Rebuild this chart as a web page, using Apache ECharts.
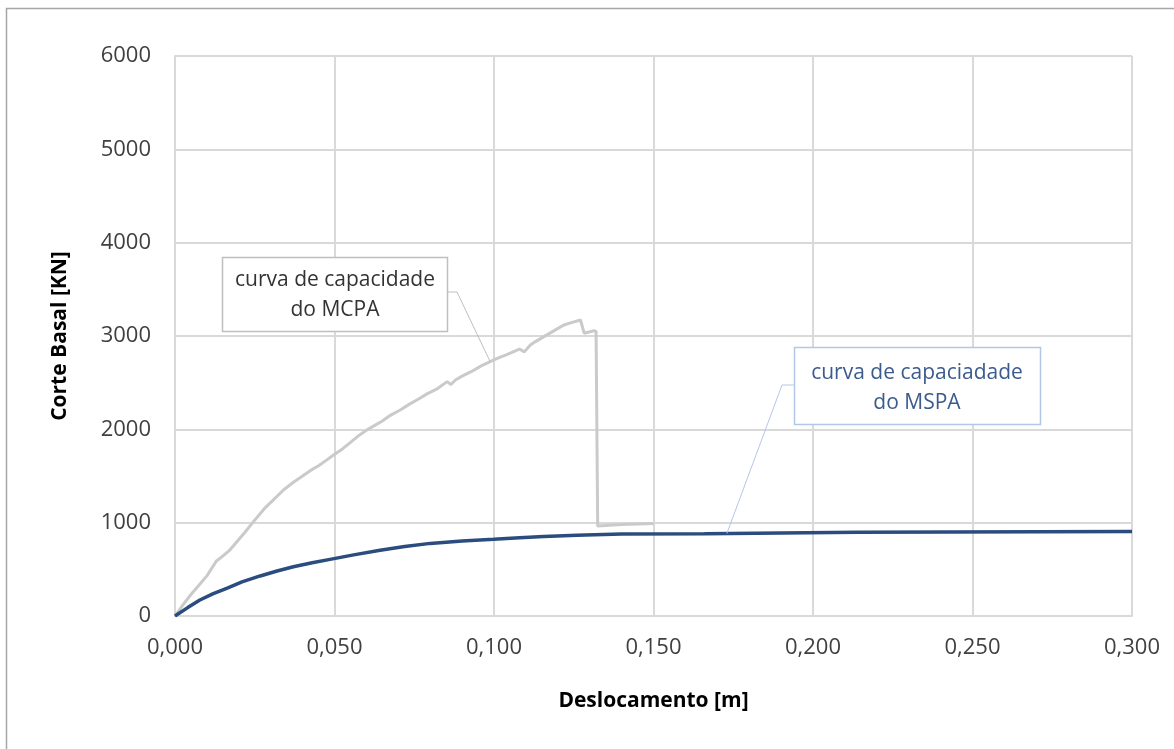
<!DOCTYPE html>
<html>
<head>
<meta charset="utf-8">
<script src="https://cdn.jsdelivr.net/npm/echarts@6/dist/echarts.min.js"></script>
<style>
html,body{margin:0;padding:0;background:#fff;}
#c{width:1174px;height:749px;}
</style>
</head>
<body>
<div id="c"></div>
<script>
// ---- data ----
const mcpaX = [0, 0.0025, 0.005, 0.0075, 0.010, 0.013, 0.0141, 0.017, 0.020, 0.022, 0.0246, 0.028, 0.031, 0.034, 0.037, 0.040, 0.0425, 0.045, 0.0475, 0.0497, 0.0525, 0.055, 0.0575, 0.0601, 0.0625, 0.065, 0.0675, 0.0706, 0.0735, 0.0769, 0.079, 0.082, 0.0853, 0.0865, 0.0879, 0.090, 0.093, 0.096, 0.0988, 0.101, 0.104, 0.106, 0.108, 0.1095, 0.1114, 0.113, 0.117, 0.119, 0.1219, 0.124, 0.1271, 0.1283, 0.1313, 0.1320, 0.1325, 0.140, 0.150];
const mcpaY = [0, 120, 230, 330, 430, 590, 618, 700, 820, 900, 1011, 1150, 1250, 1350, 1430, 1500, 1560, 1610, 1670, 1725, 1790, 1860, 1930, 1993, 2040, 2090, 2150, 2207, 2270, 2336, 2380, 2430, 2511, 2480, 2529, 2570, 2620, 2680, 2725, 2760, 2800, 2830, 2860, 2830, 2904, 2940, 3020, 3060, 3118, 3140, 3171, 3029, 3057, 3050, 964, 980, 990];
const mspaX = [0, 0.004, 0.0078, 0.012, 0.0162, 0.021, 0.0267, 0.032, 0.0371, 0.043, 0.0486, 0.056, 0.0643, 0.072, 0.080, 0.090, 0.0999, 0.108, 0.1156, 0.126, 0.140, 0.166, 0.1665, 0.214, 0.2145, 0.300];
const mspaY = [0, 90, 171, 240, 297, 365, 429, 482, 528, 570, 607, 655, 705, 745, 778, 803, 822, 838, 852, 866, 878, 882, 893, 897, 905, 905];
const xTicks = [0, 0.05, 0.10, 0.15, 0.20, 0.25, 0.30];
const yTicks = [0, 1000, 2000, 3000, 4000, 5000, 6000];
const seriesNames = ['curva de capacidade do MCPA', 'curva de capaciadade do MSPA'];
const labelMCPA = ['curva de capacidade', 'do MCPA'];
const labelMSPA = ['curva de capaciadade', 'do MSPA'];
const anchorMCPA = [0.0988, 2725];
const anchorMSPA = [0.173, 884];

const pair = (xs, ys) => xs.map((x, i) => [x, ys[i]]);
const FONT = '"Open Sans", "Noto Sans", sans-serif';

const chart = echarts.init(document.getElementById('c'), null, {renderer: 'canvas'});
const option = {
  animation: false,
  backgroundColor: '#ffffff',
  grid: {left: 175, top: 56, right: 42, bottom: 133},
  xAxis: {
    type: 'value', min: xTicks[0], max: xTicks[xTicks.length - 1], interval: 0.05,
    name: 'Deslocamento [m]', nameLocation: 'middle', nameGap: 75,
    nameTextStyle: {fontFamily: FONT, fontSize: 21, fontWeight: 'bold', color: '#000'},
    axisLine: {show: true, lineStyle: {color: '#D9D9D9', width: 2}},
    axisTick: {show: false},
    axisLabel: {margin: 21, fontFamily: FONT, fontSize: 22, color: '#404040',
      formatter: v => v.toFixed(3).replace('.', ',')},
    splitLine: {show: true, lineStyle: {color: '#D9D9D9', width: 2}}
  },
  yAxis: {
    type: 'value', min: yTicks[0], max: yTicks[yTicks.length - 1], interval: 1000,
    name: 'Corte Basal [KN]', nameLocation: 'middle', nameGap: 104, nameRotate: 90,
    nameTextStyle: {fontFamily: FONT, fontSize: 21, fontWeight: 'bold', color: '#000'},
    axisLine: {show: true, lineStyle: {color: '#D9D9D9', width: 2}},
    axisTick: {show: false},
    axisLabel: {margin: 24, fontFamily: FONT, fontSize: 22, color: '#404040',
      formatter: v => String(Math.round(v))},
    splitLine: {show: true, lineStyle: {color: '#D9D9D9', width: 2}}
  },
  series: [
    {name: seriesNames[0], type: 'line', data: pair(mcpaX, mcpaY), showSymbol: false,
     lineStyle: {color: '#CACACA', width: 3}, itemStyle: {color: '#CACACA'}, z: 2},
    {name: seriesNames[1], type: 'line', data: pair(mspaX, mspaY), showSymbol: false,
     lineStyle: {color: '#2B4C7E', width: 3.5}, itemStyle: {color: '#2B4C7E'}, z: 3}
  ]
};
chart.setOption(option);

const pA = chart.convertToPixel({gridIndex: 0}, anchorMCPA);
const pB = chart.convertToPixel({gridIndex: 0}, anchorMSPA);

const boxA = {x: 222, y: 257, w: 225, h: 74};
const boxB = {x: 794, y: 347, w: 246, h: 77};

chart.setOption({
  graphic: [
    {type: 'rect', shape: {x: 6.5, y: 8.5, width: 1300, height: 900},
     style: {fill: null, stroke: '#A6A6A6', lineWidth: 1.5}, silent: true, z: 0},
    // MCPA callout
    {type: 'polyline', shape: {points: [[boxA.x + boxA.w, boxA.y + 35], [boxA.x + boxA.w + 10, boxA.y + 35], pA]},
     style: {stroke: '#BFBFBF', lineWidth: 1, fill: null}, z: 50},
    {type: 'rect', shape: {x: boxA.x + 0.5, y: boxA.y + 0.5, width: boxA.w, height: boxA.h},
     style: {fill: '#ffffff', stroke: '#BFBFBF', lineWidth: 1.5}, z: 51},
    {type: 'text', x: boxA.x + boxA.w / 2 + 0.5, y: boxA.y + 23,
     style: {text: labelMCPA[0], fontFamily: FONT, fontSize: 21, fill: '#333333', align: 'center', verticalAlign: 'middle'}, z: 52},
    {type: 'text', x: boxA.x + boxA.w / 2 + 0.5, y: boxA.y + 53,
     style: {text: labelMCPA[1], fontFamily: FONT, fontSize: 21, fill: '#333333', align: 'center', verticalAlign: 'middle'}, z: 52},
    // MSPA callout
    {type: 'polyline', shape: {points: [[boxB.x, boxB.y + 38], [boxB.x - 12, boxB.y + 38], pB]},
     style: {stroke: '#B4C7E7', lineWidth: 1, fill: null}, z: 50},
    {type: 'rect', shape: {x: boxB.x + 0.5, y: boxB.y + 0.5, width: boxB.w, height: boxB.h},
     style: {fill: '#ffffff', stroke: '#B4C7E7', lineWidth: 1.5}, z: 51},
    {type: 'text', x: boxB.x + boxB.w / 2, y: boxB.y + 26,
     style: {text: labelMSPA[0], fontFamily: FONT, fontSize: 21, fill: '#3B5B8C', align: 'center', verticalAlign: 'middle'}, z: 52},
    {type: 'text', x: boxB.x + boxB.w / 2, y: boxB.y + 56,
     style: {text: labelMSPA[1], fontFamily: FONT, fontSize: 21, fill: '#3B5B8C', align: 'center', verticalAlign: 'middle'}, z: 52}
  ]
});
</script>
</body>
</html>
